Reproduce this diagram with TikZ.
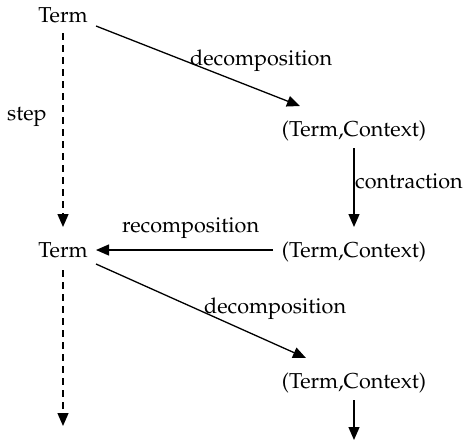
\documentclass[tikz,border=0pt]{standalone}
\usepackage[T1]{fontenc}
\usepackage{mathpazo}
\usetikzlibrary{arrows.meta}
\begin{document}
\begin{tikzpicture}[x=1pt,y=-1pt,
  every node/.style={inner sep=0pt,font=\fontsize{21.6}{26}\selectfont},
  obj/.style={anchor=base},
  lbl/.style={anchor=base west},
  arr/.style={line width=1.3pt,-{Triangle[length=13pt,width=11pt]}},
  steparr/.style={arr,dash pattern=on 7pt off 5pt}]
\useasboundingbox (0,0) rectangle (467,440);
\node[obj] (t1) at (63,22) {Term};
\node[obj] (c1) at (354,136) {(Term,Context)};
\node[obj] (c2) at (354,257) {(Term,Context)};
\node[obj] (t2) at (63,257) {Term};
\node[obj] (c3) at (354,388) {(Term,Context)};
\coordinate (t1s) at (96,26);
\coordinate (c1e) at (300,106);
\coordinate (c1s) at (354,148);
\coordinate (c2e) at (354,227);
\coordinate (c2s) at (273,250);
\coordinate (t2e) at (96,250);
\coordinate (t2s) at (96,264);
\coordinate (c3e) at (306,358);
\coordinate (c3s) at (354,400);
\coordinate (e2) at (354,440);
\coordinate (t1d) at (63,33);
\coordinate (t2n) at (63,227);
\coordinate (t2d) at (63,270);
\coordinate (e1) at (63,426);

\draw[arr] (t1s) -- (c1e);
\draw[arr] (c1s) -- (c2e);
\draw[arr] (c2s) -- (t2e);
\draw[arr] (t2s) -- (c3e);
\draw[arr] (c3s) -- (e2);
\draw[steparr] (t1d) -- (t2n);
\draw[steparr] (t2d) -- (e1);

\node[lbl] (l1) at (190,65) {decomposition};
\node[lbl] (l2) at (204,313) {decomposition};
\node[lbl] (l3) at (355,188) {contraction};
\node[lbl] (l4) at (122,232) {recomposition};
\node[lbl] (l5) at (7,120) {step};
\end{tikzpicture}
\end{document}
